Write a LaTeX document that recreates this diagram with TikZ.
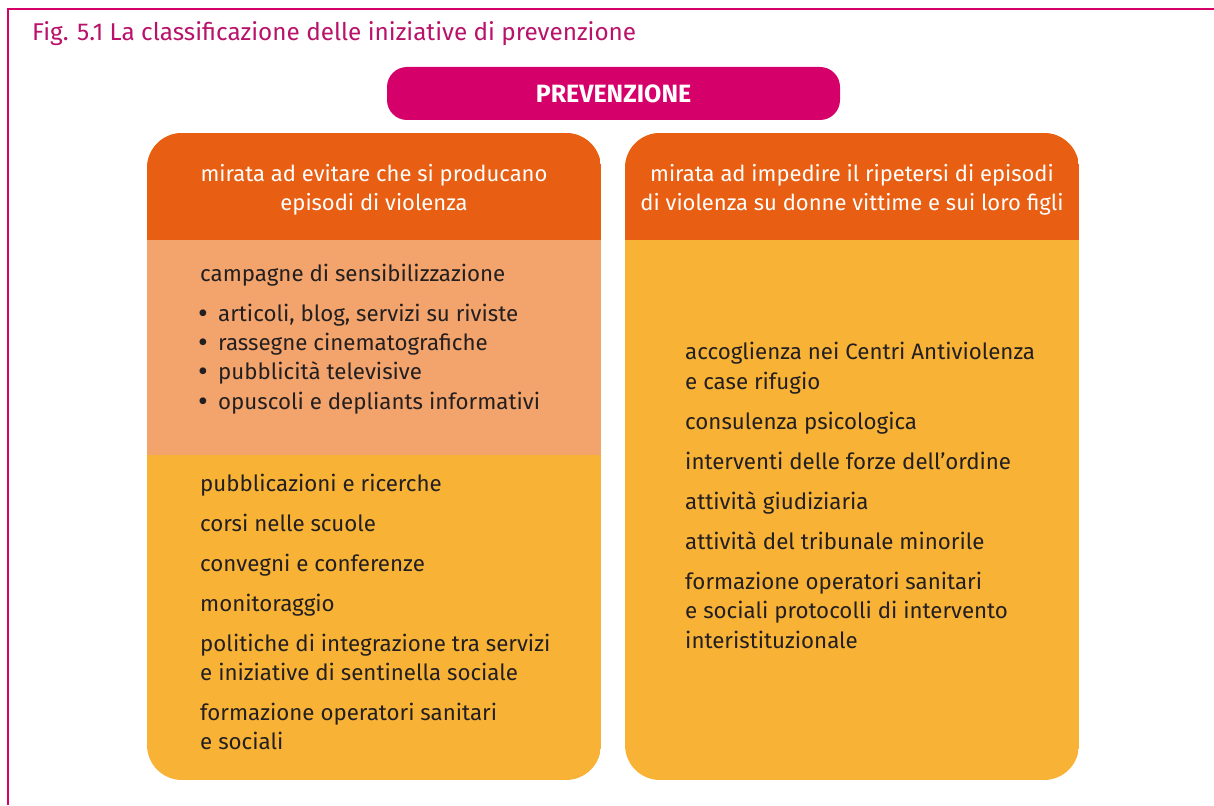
\documentclass[tikz,border=0pt]{standalone}
\usepackage{fontspec}
\setmainfont{Fira Sans}
\definecolor{mag}{HTML}{D6006B}
\definecolor{titlec}{HTML}{B8126A}
\definecolor{hdr}{HTML}{E85E12}
\definecolor{lor}{HTML}{F3A46C}
\definecolor{ylw}{HTML}{F8B336}
\definecolor{txt}{HTML}{231F20}
\begin{document}
\begin{tikzpicture}[x=1pt,y=-1pt,
  itm/.style={anchor=base west, inner sep=0pt, text=txt, font=\fontsize{22.3}{26}\selectfont},
  bul/.style={anchor=base west, inner sep=0pt, text=txt, font=\fontsize{30}{30}\selectfont},
  hd/.style={anchor=base, inner sep=0pt, text=white, font=\fontsize{22}{26}\selectfont},
  ttl/.style={anchor=base west, inner sep=0pt, text=titlec, font=\fontsize{24.3}{28}\selectfont},
  topbox/.style={fill=mag, rounded corners=20pt, minimum width=453pt, minimum height=53pt, inner sep=0pt, text=white, font=\fontsize{25}{28}\selectfont\bfseries}]
\useasboundingbox (0,0) rectangle (1214,805);
% frame
\draw[mag, line width=1.2pt] (8,805) -- (8,9) -- (1214,9);
\node[ttl] (title) at (32,41) {Fig. 5.1 La classificazione delle iniziative di prevenzione};
\node[topbox] (prev) at (613.5,93.5) {PREVENZIONE};
% left column
\begin{scope}
\clip[rounded corners=35pt] (147,133) rectangle (601,780);
\fill[ylw] (147,133) rectangle (601,780);
\fill[lor] (147,240) rectangle (601,455);
\fill[hdr] (147,133) rectangle (601,240);
\end{scope}
% right column
\begin{scope}
\clip[rounded corners=35pt] (625,133) rectangle (1079,780);
\fill[ylw] (625,133) rectangle (1079,780);
\fill[hdr] (625,133) rectangle (1079,240);
\end{scope}
% headers
\node[hd] (lh1) at (374,182) {mirata ad evitare che si producano};
\node[hd] (lh2) at (374,210) {episodi di violenza};
\node[hd] (rh1) at (852,182) {mirata ad impedire il ripetersi di episodi};
\node[hd] (rh2) at (852,210) {di violenza su donne vittime e sui loro figli};
% left items
\node[itm] (l1) at (200,281) {campagne di sensibilizzazione};
\node[bul] (b2) at (198,323) {•};
\node[itm] (l2) at (218,321) {articoli, blog, servizi su riviste};
\node[bul] (b3) at (198,352) {•};
\node[itm] (l3) at (218,350) {rassegne cinematografiche};
\node[bul] (b4) at (198,381) {•};
\node[itm] (l4) at (218,379) {pubblicità televisive};
\node[bul] (b5) at (198,411) {•};
\node[itm] (l5) at (218,409) {opuscoli e depliants informativi};
\node[itm] (l6) at (200,491) {pubblicazioni e ricerche};
\node[itm] (l7) at (200,531) {corsi nelle scuole};
\node[itm] (l8) at (200,571) {convegni e conferenze};
\node[itm] (l9) at (200,611) {monitoraggio};
\node[itm] (l10) at (200,651) {politiche di integrazione tra servizi};
\node[itm] (l10b) at (200,680) {e iniziative di sentinella sociale};
\node[itm] (l11) at (200,720) {formazione operatori sanitari};
\node[itm] (l11b) at (200,749) {e sociali};
% right items
\node[itm] (r1) at (685,359) {accoglienza nei Centri Antiviolenza};
\node[itm] (r1b) at (685,389) {e case rifugio};
\node[itm] (r2) at (685,429) {consulenza psicologica};
\node[itm] (r3) at (685,469) {interventi delle forze dell’ordine};
\node[itm] (r4) at (685,509) {attività giudiziaria};
\node[itm] (r5) at (685,549) {attività del tribunale minorile};
\node[itm] (r6) at (685,589) {formazione operatori sanitari};
\node[itm] (r6b) at (685,618) {e sociali protocolli di intervento};
\node[itm] (r6c) at (685,648) {interistituzionale};
\end{tikzpicture}
\end{document}
